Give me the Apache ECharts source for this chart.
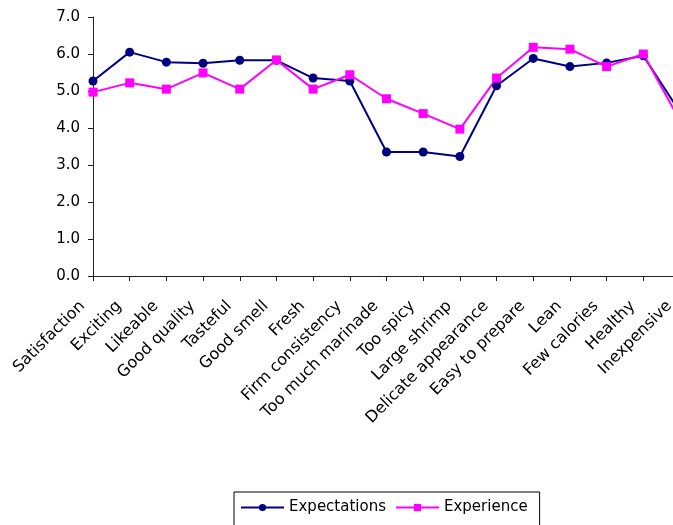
<!DOCTYPE html>
<html>
<head>
<meta charset="utf-8">
<script src="https://cdn.jsdelivr.net/npm/echarts@6/dist/echarts.min.js"></script>
<style>
html,body{margin:0;padding:0;background:#fff;}
#chart{width:673px;height:525px;}
</style>
</head>
<body>
<div id="chart"></div>
<script>
const categories = ['Satisfaction','Exciting','Likeable','Good quality','Tasteful','Good smell','Fresh','Firm consistency','Too much marinade','Too spicy','Large shrimp','Delicate appearance','Easy to prepare','Lean','Few calories','Healthy','Inexpensive'];
const expectations = [5.27,6.05,5.78,5.75,5.83,5.83,5.35,5.27,3.35,3.35,3.23,5.14,5.88,5.66,5.76,5.95,4.43];
const experience = [4.97,5.22,5.05,5.49,5.05,5.84,5.05,5.44,4.79,4.39,3.97,5.35,6.18,6.13,5.66,6.00,4.19];
const yTicks = {min:0, max:7, interval:1};
const seriesNames = ['Expectations','Experience'];

const chart = echarts.init(document.getElementById('chart'), null, {renderer:'canvas'});
const font = 'DejaVu Sans';
chart.setOption({
  animation:false,
  backgroundColor:'#fff',
  grid:{left:93, top:17, bottom:249, right:-7, containLabel:false, outerBoundsMode:'none'},
  xAxis:{
    type:'category', data:categories, boundaryGap:false,
    axisLine:{lineStyle:{color:'#222', width:1}},
    axisTick:{show:true, length:5, inside:false, lineStyle:{color:'#222'}},
    axisLabel:{rotate:45, interval:0, margin:17, padding:[0,15,0,0], color:'#000', fontFamily:font, fontSize:16},
    splitLine:{show:false}
  },
  yAxis:{
    type:'value', min:yTicks.min, max:yTicks.max, interval:yTicks.interval,
    axisLine:{show:true, lineStyle:{color:'#222', width:1}},
    axisTick:{show:true, length:5, lineStyle:{color:'#222'}},
    axisLabel:{margin:13, color:'#000', fontFamily:font, fontSize:15, formatter:v=>v.toFixed(1)},
    splitLine:{show:false}
  },
  legend:{
    data:seriesNames, left:234, top:492, orient:'horizontal',
    borderColor:'#000', borderWidth:1, padding:[8,12,14,6],
    itemWidth:43, itemHeight:9, itemGap:9,
    textStyle:{color:'#000', fontFamily:font, fontSize:15}
  },
  series:[
    {name:seriesNames[0], type:'line', data:expectations, symbol:'circle', symbolSize:9,
     lineStyle:{color:'#000080', width:2}, itemStyle:{color:'#000080'}},
    {name:seriesNames[1], type:'line', data:experience, symbol:'rect', symbolSize:9,
     lineStyle:{color:'#FF00FF', width:2}, itemStyle:{color:'#FF00FF'}}
  ]
});
</script>
</body>
</html>
